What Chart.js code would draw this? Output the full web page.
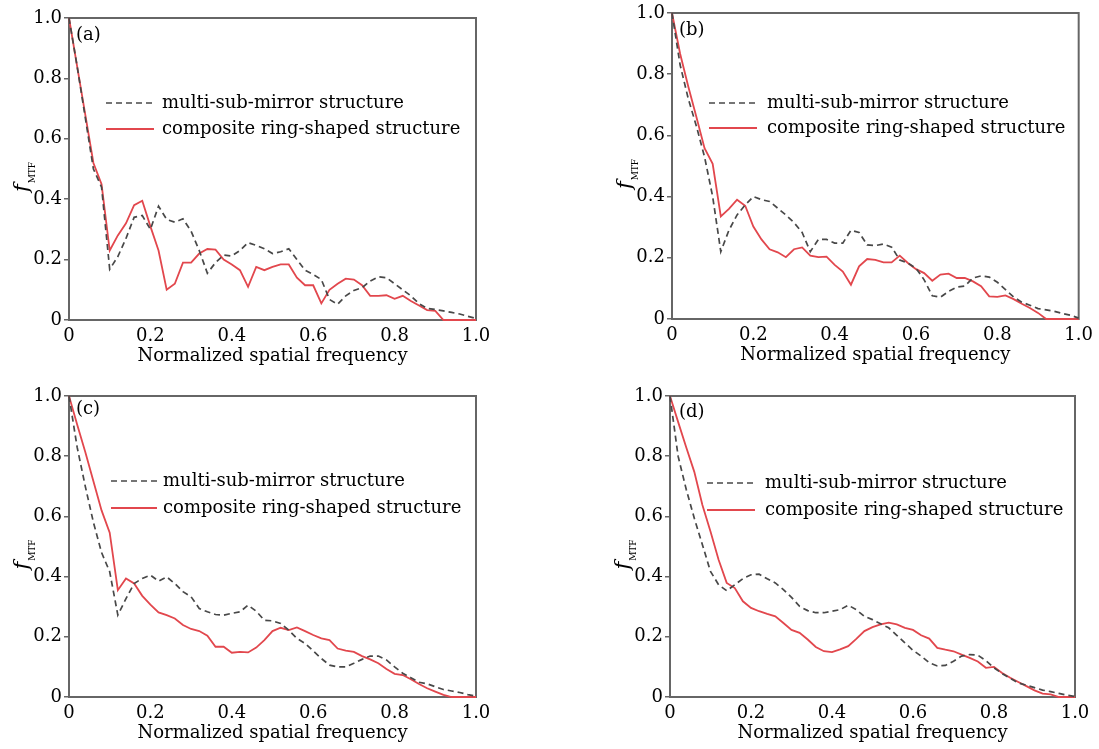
<!DOCTYPE html>
<html>
<head>
<meta charset="utf-8">
<script src="https://cdn.jsdelivr.net/npm/chart.js@4.4.0/dist/chart.umd.min.js"></script>
<style>
  body { margin: 0; background: #fff; }
  #wrap { position: relative; width: 1099px; height: 749px; }
  canvas { position: absolute; }
</style>
</head>
<body>
<div id="wrap">
  <canvas id="chart-a" width="560" height="375" style="left:0;top:0"></canvas>
  <canvas id="chart-b" width="539" height="375" style="left:560px;top:0"></canvas>
  <canvas id="chart-c" width="560" height="374" style="left:0;top:375px"></canvas>
  <canvas id="chart-d" width="539" height="374" style="left:560px;top:375px"></canvas>
</div>
<script>
// Normalized spatial frequency samples (shared x values)
const freq = [0, 0.02, 0.04, 0.06, 0.08, 0.10, 0.12, 0.14, 0.16, 0.18,
    0.20, 0.22, 0.24, 0.26, 0.28, 0.30, 0.32, 0.34, 0.36, 0.38,
    0.40, 0.42, 0.44, 0.46, 0.48, 0.50, 0.52, 0.54, 0.56, 0.58,
    0.60, 0.62, 0.64, 0.66, 0.68, 0.70, 0.72, 0.74, 0.76, 0.78,
    0.80, 0.82, 0.84, 0.86, 0.88, 0.90, 0.92, 0.94, 0.96, 0.98, 1.0];

const tickValues = [0, 0.2, 0.4, 0.6, 0.8, 1.0];
const tickLabels = ['0', '0.2', '0.4', '0.6', '0.8', '1.0'];
const seriesNames = ['multi-sub-mirror structure', 'composite ring-shaped structure'];
const panelLetters = ['(a)', '(b)', '(c)', '(d)'];

// MTF curves
const aMulti = [1.0, 0.84, 0.67, 0.50, 0.44, 0.168, 0.21, 0.27, 0.34, 0.346,
    0.30, 0.377, 0.333, 0.324, 0.335, 0.294, 0.23, 0.155, 0.19, 0.215,
    0.212, 0.23, 0.256, 0.247, 0.236, 0.22, 0.226, 0.236, 0.20, 0.165,
    0.151, 0.134, 0.068, 0.052, 0.08, 0.098, 0.107, 0.129, 0.143, 0.14,
    0.12, 0.10, 0.08, 0.054, 0.038, 0.035, 0.03, 0.025, 0.02, 0.012, 0.005];
const aRing = [1.0, 0.84, 0.68, 0.52, 0.45, 0.23, 0.28, 0.32, 0.38, 0.395,
    0.31, 0.23, 0.10, 0.12, 0.19, 0.19, 0.22, 0.235, 0.233, 0.20,
    0.184, 0.165, 0.11, 0.176, 0.165, 0.176, 0.184, 0.184, 0.14, 0.115,
    0.115, 0.055, 0.10, 0.12, 0.137, 0.134, 0.115, 0.08, 0.08, 0.082,
    0.07, 0.08, 0.063, 0.048, 0.033, 0.03, 0, 0, 0, 0, 0];

const bMulti = [1.0, 0.83, 0.72, 0.63, 0.53, 0.40, 0.22, 0.29, 0.34, 0.373,
    0.40, 0.39, 0.384, 0.362, 0.34, 0.315, 0.283, 0.22, 0.26, 0.26,
    0.248, 0.248, 0.29, 0.283, 0.242, 0.24, 0.245, 0.235, 0.193, 0.183,
    0.166, 0.128, 0.076, 0.071, 0.09, 0.104, 0.108, 0.134, 0.141, 0.137,
    0.12, 0.096, 0.072, 0.055, 0.045, 0.034, 0.03, 0.025, 0.018, 0.012, 0.003];
const bRing = [1.0, 0.867, 0.76, 0.66, 0.558, 0.507, 0.335, 0.36, 0.39, 0.37,
    0.302, 0.26, 0.228, 0.218, 0.202, 0.228, 0.234, 0.207, 0.202, 0.204,
    0.177, 0.155, 0.112, 0.172, 0.196, 0.193, 0.185, 0.185, 0.207, 0.183,
    0.163, 0.15, 0.125, 0.145, 0.148, 0.134, 0.134, 0.123, 0.107, 0.074,
    0.072, 0.077, 0.065, 0.05, 0.036, 0.02, 0, 0, 0, 0, 0];

const cMulti = [1.0, 0.83, 0.70, 0.58, 0.48, 0.416, 0.272, 0.327, 0.377, 0.394,
    0.405, 0.385, 0.399, 0.377, 0.35, 0.333, 0.294, 0.283, 0.274, 0.272,
    0.278, 0.283, 0.305, 0.285, 0.255, 0.253, 0.244, 0.222, 0.195, 0.178,
    0.153, 0.128, 0.106, 0.10, 0.10, 0.112, 0.125, 0.136, 0.136, 0.123,
    0.10, 0.079, 0.064, 0.049, 0.044, 0.034, 0.025, 0.02, 0.015, 0.008, 0.003];
const cRing = [1.0, 0.905, 0.814, 0.717, 0.62, 0.546, 0.355, 0.394, 0.377, 0.336,
    0.307, 0.281, 0.272, 0.261, 0.239, 0.226, 0.219, 0.204, 0.167, 0.167,
    0.147, 0.15, 0.148, 0.164, 0.189, 0.219, 0.23, 0.222, 0.231, 0.219,
    0.206, 0.195, 0.189, 0.161, 0.154, 0.15, 0.136, 0.125, 0.112, 0.093,
    0.077, 0.073, 0.059, 0.043, 0.029, 0.018, 0.007, 0, 0, 0, 0];

const dMulti = [1.0, 0.80, 0.69, 0.594, 0.506, 0.417, 0.373, 0.353, 0.373, 0.393,
    0.406, 0.408, 0.393, 0.379, 0.357, 0.331, 0.301, 0.287, 0.28, 0.28,
    0.285, 0.29, 0.305, 0.29, 0.268, 0.257, 0.243, 0.23, 0.205, 0.18,
    0.155, 0.136, 0.114, 0.103, 0.105, 0.119, 0.136, 0.141, 0.139, 0.121,
    0.097, 0.078, 0.062, 0.047, 0.039, 0.031, 0.023, 0.018, 0.012, 0.006, 0.002];
const dRing = [1.0, 0.914, 0.83, 0.748, 0.638, 0.55, 0.456, 0.379, 0.362, 0.318,
    0.296, 0.285, 0.276, 0.268, 0.246, 0.223, 0.213, 0.191, 0.166, 0.152,
    0.149, 0.158, 0.169, 0.193, 0.219, 0.232, 0.241, 0.247, 0.241, 0.23,
    0.223, 0.205, 0.194, 0.163, 0.157, 0.152, 0.141, 0.13, 0.118, 0.097,
    0.10, 0.08, 0.064, 0.05, 0.036, 0.022, 0.011, 0.009, 0, 0, 0];

const FONT = 'DejaVu Serif';
const TEXT_COLOR = '#000';
const AXIS_COLOR = '#666';
const RED = '#e2474d';
const GREY = '#484848';

// plot rectangle inside each canvas, legend offsets from the plot's top-left corner
const panels = [
    { id: 'chart-a', letter: panelLetters[0], multi: aMulti, ring: aRing,
      area: { l: 69, t: 18, r: 476, b: 320 }, lg: { x0: 37, x1: 85, tx: 93, y: [85, 111] }, lt: [7, 17], titlePad: 8 },
    { id: 'chart-b', letter: panelLetters[1], multi: bMulti, ring: bRing,
      area: { l: 112, t: 13, r: 524, b: 319 }, lg: { x0: 37, x1: 85, tx: 95, y: [90, 115] }, lt: [7, 17], titlePad: 9 },
    { id: 'chart-c', letter: panelLetters[2], multi: cMulti, ring: cRing,
      area: { l: 69, t: 21, r: 476, b: 322 }, lg: { x0: 42, x1: 88, tx: 94, y: [85, 112] }, lt: [7, 13], titlePad: 5 },
    { id: 'chart-d', letter: panelLetters[3], multi: dMulti, ring: dRing,
      area: { l: 110, t: 21, r: 515, b: 322 }, lg: { x0: 37, x1: 85, tx: 95, y: [87, 114] }, lt: [9, 16], titlePad: 5 }
];

// frame around the plot area, drawn under the curves
const framePlugin = {
    id: 'frame',
    beforeDatasetsDraw(chart) {
        const { ctx, chartArea: a } = chart;
        ctx.save();
        ctx.strokeStyle = AXIS_COLOR;
        ctx.lineWidth = 2;
        ctx.strokeRect(a.left, a.top, a.right - a.left, a.bottom - a.top);
        ctx.restore();
    }
};

// legend, panel letter and the f_MTF axis title
const annotatePlugin = {
    id: 'annotate',
    afterDraw(chart) {
        const { ctx, chartArea: a } = chart;
        const p = chart.options.plugins.annotate;
        ctx.save();
        ctx.font = '18px "' + FONT + '"';
        ctx.fillStyle = TEXT_COLOR;
        ctx.textBaseline = 'middle';

        chart.data.datasets.forEach((ds, i) => {
            const y = a.top + p.lg.y[i];
            ctx.save();
            ctx.strokeStyle = ds.borderColor;
            ctx.lineWidth = ds.borderWidth;
            ctx.setLineDash(ds.borderDash || []);
            ctx.beginPath();
            ctx.moveTo(a.left + p.lg.x0, y);
            ctx.lineTo(a.left + p.lg.x1, y);
            ctx.stroke();
            ctx.restore();
            ctx.fillText(ds.label, a.left + p.lg.tx, y);
        });

        ctx.fillText(p.letter, a.left + p.lt[0], a.top + p.lt[1]);

        // rotated y title: italic f with subscript MTF
        ctx.translate(a.left - 41, (a.top + a.bottom) / 2 + 8);
        ctx.rotate(-Math.PI / 2);
        ctx.textBaseline = 'alphabetic';
        ctx.font = 'italic 21px "' + FONT + '"';
        const fw = ctx.measureText('f').width;
        ctx.font = '9px "' + FONT + '"';
        const mw = ctx.measureText('MTF').width;
        const x0 = -(fw + mw + 1) / 2;
        ctx.font = 'italic 21px "' + FONT + '"';
        ctx.fillText('f', x0, 0);
        ctx.font = '9px "' + FONT + '"';
        ctx.fillText('MTF', x0 + fw + 1, 7);
        ctx.restore();
    }
};

function fixedTicks(scale) {
    scale.ticks = tickValues.map(v => ({ value: v }));
}

panels.forEach(p => {
    const canvas = document.getElementById(p.id);
    const W = canvas.width, H = canvas.height;

    new Chart(canvas.getContext('2d'), {
        type: 'line',
        data: {
            datasets: [
                {
                    label: seriesNames[0],
                    data: freq.map((x, i) => ({ x: x, y: p.multi[i] })),
                    borderColor: GREY,
                    borderWidth: 1.7,
                    borderDash: [6, 4],
                    pointRadius: 0,
                    tension: 0,
                    clip: false
                },
                {
                    label: seriesNames[1],
                    data: freq.map((x, i) => ({ x: x, y: p.ring[i] })),
                    borderColor: RED,
                    borderWidth: 1.8,
                    pointRadius: 0,
                    tension: 0,
                    clip: false
                }
            ]
        },
        options: {
            responsive: false,
            animation: false,
            events: [],
            layout: { padding: { left: 0, top: p.area.t, right: W - p.area.r, bottom: 0 } },
            plugins: {
                legend: { display: false },
                tooltip: { enabled: false },
                annotate: { letter: p.letter, lg: p.lg, lt: p.lt }
            },
            scales: {
                x: {
                    type: 'linear',
                    min: 0,
                    max: 1,
                    afterBuildTicks: fixedTicks,
                    afterFit: s => { s.height = H - p.area.b; },
                    grid: { display: false, drawTicks: false },
                    border: { display: true, color: AXIS_COLOR, width: 2 },
                    ticks: {
                        padding: 6,
                        color: TEXT_COLOR,
                        maxRotation: 0,
                        font: { family: FONT, size: 18 },
                        callback: (v, i) => tickLabels[i]
                    },
                    title: {
                        display: true,
                        text: 'Normalized spatial frequency',
                        color: TEXT_COLOR,
                        font: { family: FONT, size: 18 },
                        padding: { top: 0, bottom: p.titlePad }
                    }
                },
                y: {
                    type: 'linear',
                    min: 0,
                    max: 1,
                    afterBuildTicks: fixedTicks,
                    afterFit: s => { s.width = p.area.l; },
                    grid: { display: true, drawOnChartArea: false, drawTicks: true, tickLength: 5, color: AXIS_COLOR, lineWidth: 1.5 },
                    border: { display: true, color: AXIS_COLOR, width: 2 },
                    ticks: {
                        padding: 2,
                        color: TEXT_COLOR,
                        font: { family: FONT, size: 18 },
                        callback: (v, i) => tickLabels[i]
                    }
                }
            }
        },
        plugins: [framePlugin, annotatePlugin]
    });
});
</script>
</body>
</html>
